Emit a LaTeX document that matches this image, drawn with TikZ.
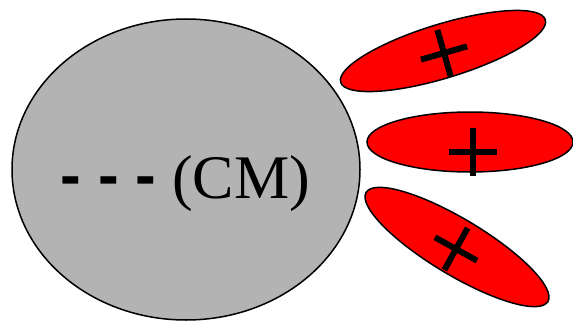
\documentclass[tikz,border=0pt]{standalone}
\usepackage{fontspec}
\setmainfont{Liberation Serif}
\newfontfamily\dashfont{Liberation Sans}
\usepackage{tikz}
\usetikzlibrary{shapes}
\definecolor{coregray}{RGB}{179,179,179}

\begin{document}
\begin{tikzpicture}[x=1pt,y=-1pt,
      every node/.style={ellipse,draw,line width=1.5pt,inner sep=0pt},
      core/.style={fill=coregray,minimum width=348pt,minimum height=301pt},
      lobe/.style={fill=red,minimum width=212pt,minimum height=56pt},
      plusbar/.style={line width=6pt}]
    \useasboundingbox (0,0) rectangle (573,321);
    \node[core] (cm) at (186,169.5) {};
    \node[rectangle,draw=none,anchor=base west] (cmlabel) at (59.5,198)
        {\fontsize{62}{62}\selectfont{\dashfont\bfseries\raisebox{2pt}{- - -}} (CM)};
    % positive lobes
    \node[lobe,rotate=17,minimum width=214pt,minimum height=54pt] (top) at (443,51) {};
    \node[lobe,minimum width=206pt,minimum height=60pt] (mid) at (470,142) {};
    \node[lobe,rotate=-31] (bot) at (457,247) {};
    \foreach \px/\py/\ang in {444/53/16, 473/152/0, 456/249/-29}{
      \begin{scope}[shift={(\px,\py)},rotate=\ang]
        \draw[plusbar] (-24,0) -- (24,0) (0,-24) -- (0,24);
      \end{scope}
    }
  \end{tikzpicture}
\end{document}
